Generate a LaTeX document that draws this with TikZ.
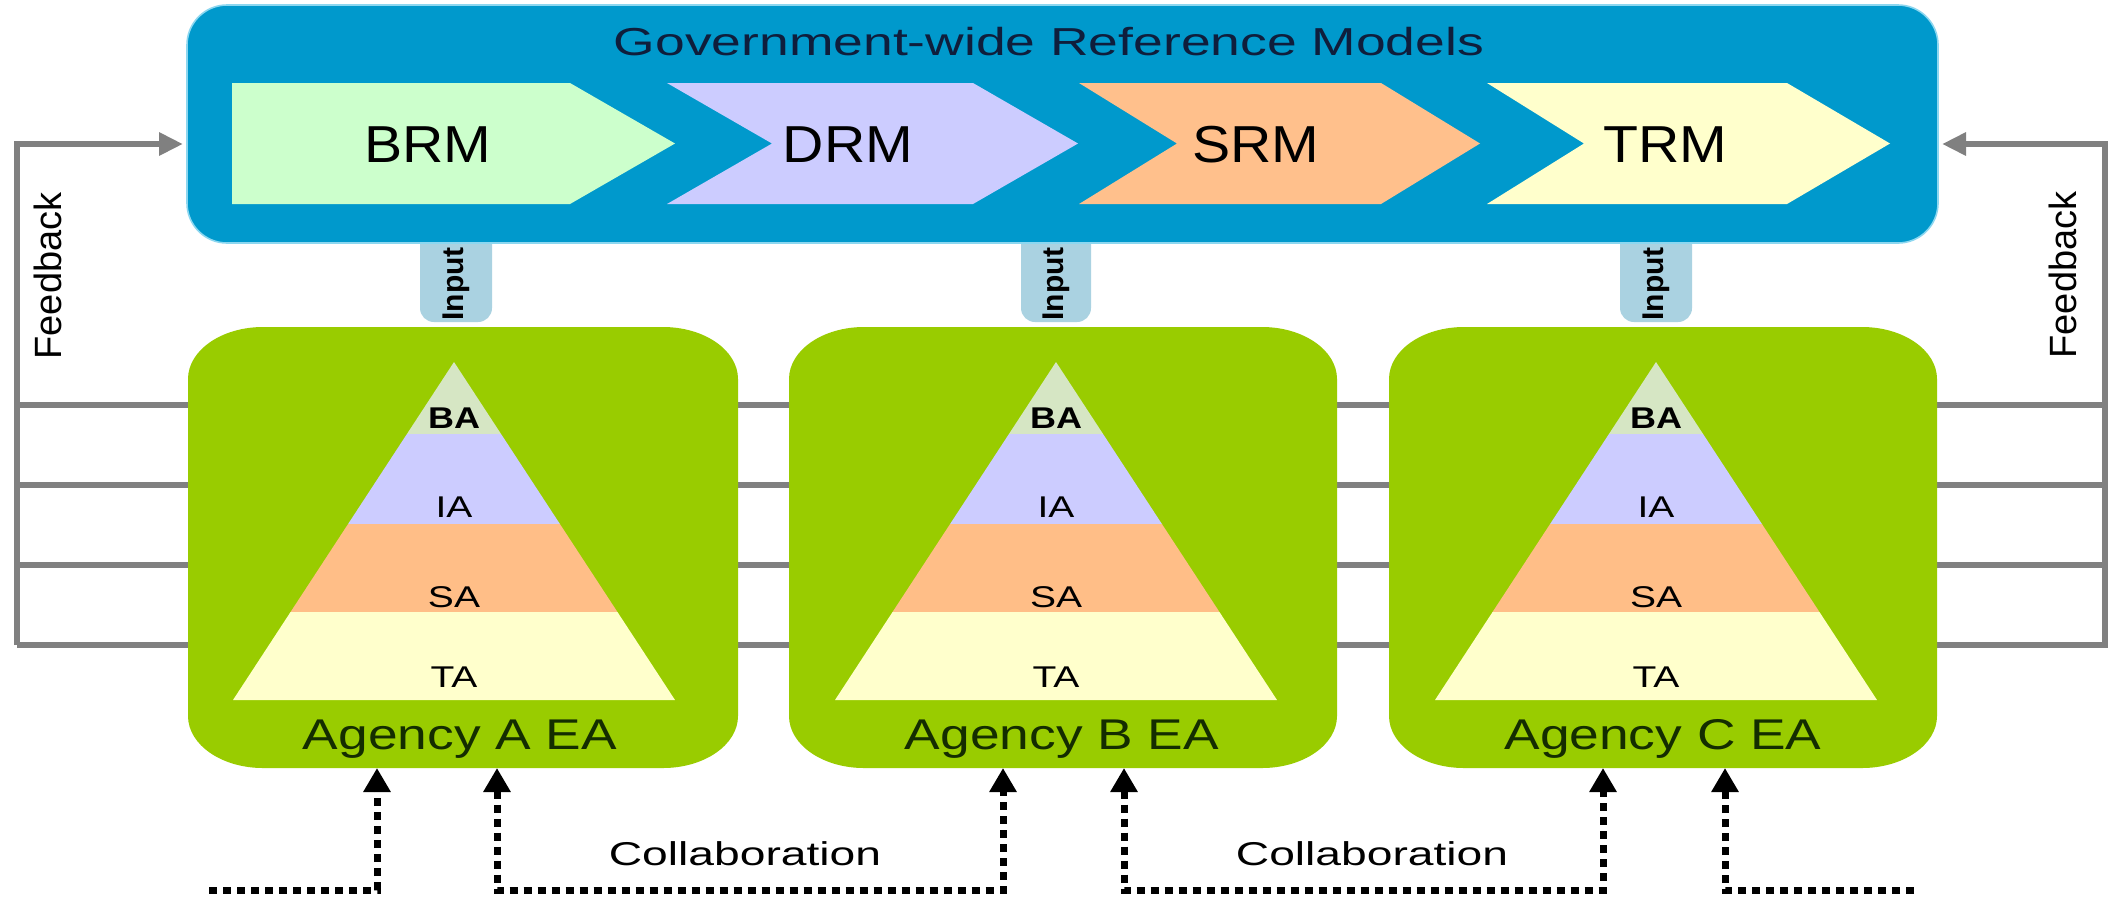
\documentclass[tikz,border=0pt]{standalone}
\usepackage{fontspec}
\setmainfont{Liberation Sans}
\usetikzlibrary{arrows.meta}
\definecolor{rmblue}{RGB}{0,153,204}
\definecolor{rmedge}{RGB}{140,215,240}
\definecolor{agreen}{RGB}{153,204,0}
\definecolor{brmc}{RGB}{204,255,204}
\definecolor{drmc}{RGB}{204,204,255}
\definecolor{srmc}{RGB}{255,192,140}
\definecolor{trmc}{RGB}{255,255,204}
\definecolor{bac}{RGB}{214,230,196}
\definecolor{iac}{RGB}{204,204,255}
\definecolor{sac}{RGB}{255,190,135}
\definecolor{tac}{RGB}{255,255,204}
\definecolor{pillc}{RGB}{170,210,225}
\definecolor{fbgray}{RGB}{128,128,128}
\definecolor{titlec}{RGB}{15,30,60}
\definecolor{agtext}{RGB}{20,45,0}
\newcommand{\hs}[2]{\scalebox{#1}[1]{#2}}
% elliptic rounded box: x1,y1,x2,y2,rx,ry
\newcommand{\agencybox}[6]{%
  \fill[agreen] (#1+#5,#2) -- (#3-#5,#2)
    .. controls (#3-0.448*#5,#2) and (#3,#2+0.448*#6) .. (#3,#2+#6)
    -- (#3,#4-#6)
    .. controls (#3,#4-0.448*#6) and (#3-0.448*#5,#4) .. (#3-#5,#4)
    -- (#1+#5,#4)
    .. controls (#1+0.448*#5,#4) and (#1,#4-0.448*#6) .. (#1,#4-#6)
    -- (#1,#2+#6)
    .. controls (#1,#2+0.448*#6) and (#1+0.448*#5,#2) .. (#1+#5,#2) -- cycle;}
\newcommand{\pyramid}[2]{%
  \begin{scope}
    \clip (#1,362) -- (#1+221,700) -- (#1-221,700) -- cycle;
    \fill[bac] (#1-230,350) rectangle (#1+230,434);
    \fill[iac] (#1-230,434) rectangle (#1+230,524);
    \fill[sac] (#1-230,524) rectangle (#1+230,612);
    \fill[tac] (#1-230,612) rectangle (#1+230,710);
  \end{scope}
  \node[pyrlab,font=\bfseries\fontsize{15pt}{15pt}\selectfont] (#2BA) at (#1,428) {\hs{1.2}{BA}};
  \node[pyrlab] (#2IA) at (#1,517) {\hs{1.3}{IA}};
  \node[pyrlab] (#2SA) at (#1,607) {\hs{1.3}{SA}};
  \node[pyrlab] (#2TA) at (#1,687) {\hs{1.3}{TA}};
}
\begin{document}
\begin{tikzpicture}[x=0.5pt,y=-0.5pt,
  fbline/.style={draw=fbgray,line width=3pt},
  fbarrow/.style={fbline,-{Triangle[length=12pt,width=11pt]}},
  collab/.style={draw=black,line width=3.5pt,dash pattern=on 4pt off 3pt},
  tipu/.style={-{Triangle[length=12pt,width=13pt]}},
  tipb/.style={{Triangle[length=12pt,width=13pt]}-{Triangle[length=12pt,width=13pt]}},
  pyrlab/.style={anchor=base,inner sep=0pt,font=\fontsize{15pt}{15pt}\selectfont},
  rmlab/.style={anchor=base,inner sep=0pt,font=\fontsize{26pt}{26pt}\selectfont},
  aglab/.style={anchor=base,inner sep=0pt,text=agtext,font=\fontsize{21.5pt}{21.5pt}\selectfont},
  colab/.style={anchor=base,inner sep=0pt,font=\fontsize{16.5pt}{16.5pt}\selectfont},
  fblab/.style={rotate=90,inner sep=0pt,font=\fontsize{19pt}{19pt}\selectfont},
  inlab/.style={rotate=90,inner sep=0pt,font=\bfseries\fontsize{15pt}{15pt}\selectfont},
  pill/.style={fill=pillc,rounded corners=7pt}
]
\useasboundingbox (0,0) rectangle (2118,896);
\fill[white] (0,0) rectangle (2118,896);

% coordinates
\coordinate (fbL) at (17,144);
\coordinate (fbR) at (2105,144);
\coordinate (grmW) at (183,144);
\coordinate (grmE) at (1942,144);

% feedback lines (behind boxes)
\draw[fbline] (17,405) -- (2105,405);
\draw[fbline] (17,485) -- (2105,485);
\draw[fbline] (17,565) -- (2105,565);
\draw[fbarrow] (17,645) -- (2105,645) -- (fbR) -- (grmE);
\draw[fbarrow] (17,645) -- (fbL) -- (grmW);

% input pills
\fill[pill] (420,220) rectangle (492,322);
\fill[pill] (1021,220) rectangle (1091,322);
\fill[pill] (1620,220) rectangle (1692,322);

% government-wide box
\filldraw[fill=rmblue, draw=rmedge, line width=0.8pt, rounded corners=20pt] (187,5) rectangle (1938,243);
\node[anchor=base,inner sep=0pt,text=titlec,font=\fontsize{19.5pt}{19.5pt}\selectfont]
  (title) at (1049,55) {\hs{1.37}{Government-wide Reference Models}};

% chevrons
\fill[brmc] (232,83) -- (570,83) -- (675,143.5) -- (570,204) -- (232,204) -- cycle;
\fill[drmc] (667,83) -- (973,83) -- (1078,143.5) -- (973,204) -- (667,204) -- (772,143.5) -- cycle;
\fill[srmc] (1079,83) -- (1381,83) -- (1480,143.5) -- (1381,204) -- (1079,204) -- (1177,143.5) -- cycle;
\fill[trmc] (1487,83) -- (1787,83) -- (1890,143.5) -- (1787,204) -- (1487,204) -- (1584,143.5) -- cycle;
\node[rmlab] (brm) at (428,162) {\hs{1.1}{BRM}};
\node[rmlab] (drm) at (848,162) {\hs{1.1}{DRM}};
\node[rmlab] (srm) at (1256,162) {\hs{1.1}{SRM}};
\node[rmlab] (trm) at (1665,162) {\hs{1.1}{TRM}};

% input labels
\node[inlab] (inA) at (456,284) {Input};
\node[inlab] (inB) at (1056,284) {Input};
\node[inlab] (inC) at (1656,284) {Input};

% feedback labels
\node[fblab] (fbtL) at (48,276) {Feedback};
\node[fblab] (fbtR) at (2063,275) {Feedback};

% agency boxes
\agencybox{188}{327}{738}{768}{75}{52}
\agencybox{789}{327}{1337}{768}{75}{52}
\agencybox{1389}{327}{1937}{768}{75}{52}

\pyramid{454}{A}
\pyramid{1056}{B}
\pyramid{1656}{C}

\node[aglab] (agA) at (460,749) {\hs{1.24}{Agency A EA}};
\node[aglab] (agB) at (1062,749) {\hs{1.24}{Agency B EA}};
\node[aglab] (agC) at (1663,749) {\hs{1.24}{Agency C EA}};

% collaboration connectors
\coordinate (A1) at (377,768);
\coordinate (A2) at (497,768);
\coordinate (B1) at (1003,768);
\coordinate (B2) at (1124,768);
\coordinate (C1) at (1603,768);
\coordinate (C2) at (1725,768);
\coordinate (botL) at (209,890);
\coordinate (botR) at (1914,890);
\coordinate (bot) at (0,890);

\draw[collab,tipu] (botL) -- (A1 |- bot) -- (A1);
\draw[collab,tipb] (A2) -- (A2 |- bot) -- (B1 |- bot) -- (B1);
\draw[collab,tipb] (B2) -- (B2 |- bot) -- (C1 |- bot) -- (C1);
\draw[collab,tipu] (botR) -- (C2 |- bot) -- (C2);

\node[colab] (col1) at (745,865) {\hs{1.4}{Collaboration}};
\node[colab] (col2) at (1372,865) {\hs{1.4}{Collaboration}};
\end{tikzpicture}
\end{document}
